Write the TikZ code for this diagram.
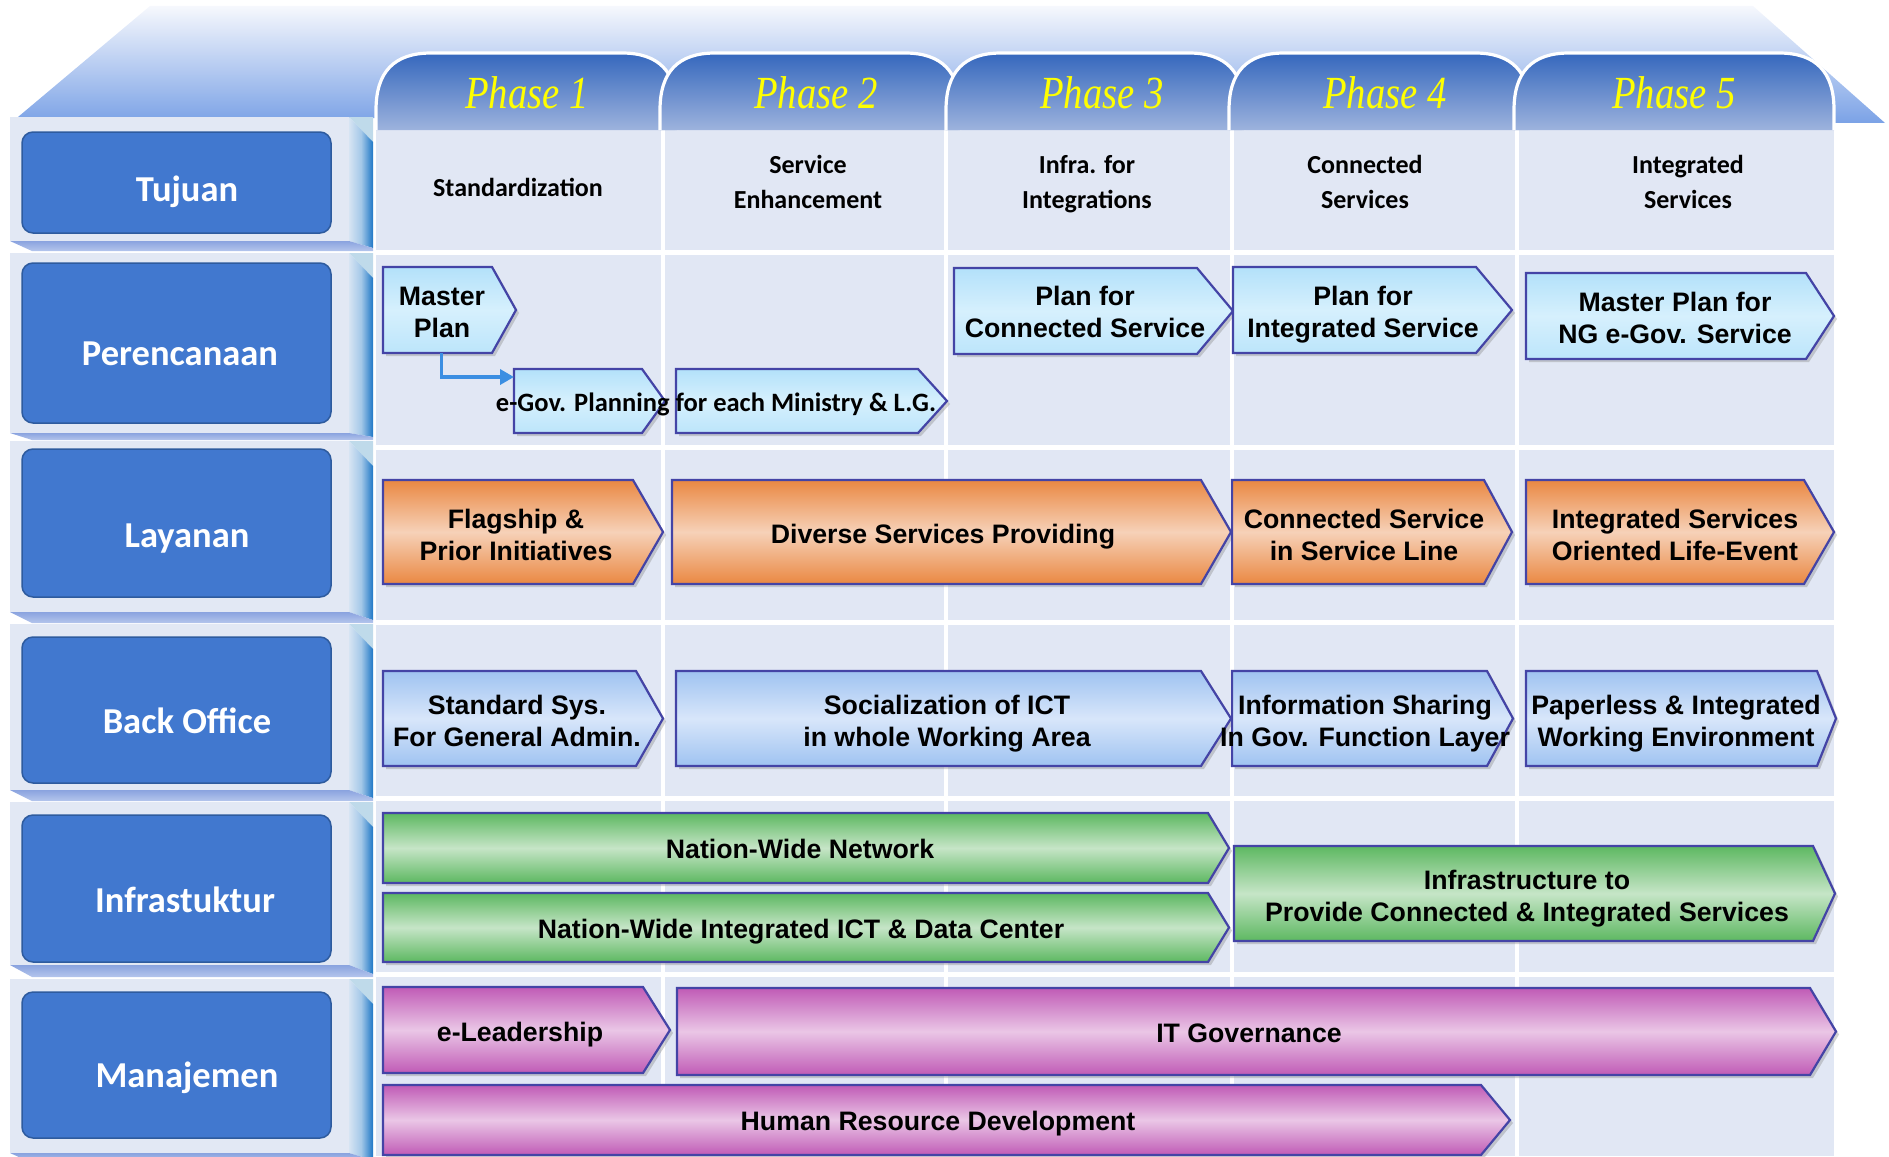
\documentclass[tikz,border=0pt]{standalone}
\usepackage{fontspec}
\setmainfont{Liberation Sans}
\newfontfamily\carlito{Carlito}
\newfontfamily\serifit{Liberation Serif}
\usetikzlibrary{arrows.meta,shadows}

\definecolor{topwhite}{HTML}{F6F8FD}
\definecolor{topblue}{HTML}{7BA2E6}
\definecolor{tabtop}{HTML}{3567BD}
\definecolor{tabbot}{HTML}{9DB3DD}
\definecolor{gridbg}{HTML}{E1E7F4}
\definecolor{panelc}{HTML}{E2E8F4}
\definecolor{stripL}{HTML}{D6E4F3}
\definecolor{stripM}{HTML}{A4C8E8}
\definecolor{stripR}{HTML}{1F77C6}
\definecolor{striptri}{HTML}{BFDAEA}
\definecolor{bevT}{HTML}{8AA3DF}
\definecolor{bevB}{HTML}{B4C5EC}
\definecolor{lblfill}{HTML}{4178CF}
\definecolor{lblline}{HTML}{2E5B9E}
\definecolor{barline}{HTML}{4444A6}
\definecolor{planT}{HTML}{B3E1FA}
\definecolor{planM}{HTML}{D6F0FD}
\definecolor{planB}{HTML}{BCE5FB}
\definecolor{svcT}{HTML}{EA8842}
\definecolor{svcM}{HTML}{F6D1B8}
\definecolor{backT}{HTML}{9FC3F1}
\definecolor{backM}{HTML}{D8E6FA}
\definecolor{infT}{HTML}{5DB861}
\definecolor{infM}{HTML}{C6E5C7}
\definecolor{mgmtT}{HTML}{C05BB6}
\definecolor{mgmtM}{HTML}{EAC6E6}
\definecolor{connc}{HTML}{3B8EE2}
\definecolor{phaseyellow}{HTML}{FFFF00}

% chevron bar: name, style, left x, top y, tip x, bottom y, tip depth
\newcommand\chev[7]{%
  \path[#2] (#3,#4) -- ({#5-#7},#4) -- (#5,{(#4+#6)/2}) -- ({#5-#7},#6) -- (#3,#6) -- cycle;
  \node[inner sep=0pt, outer sep=0pt, minimum width={(#5-#7-#3)*1pt},
        minimum height={(#6-#4)*1pt}, anchor=north west] (#1) at (#3,#4) {};
}

% left-hand row panel: top y, panel bottom y, row end y
\newcommand\sidepanel[3]{%
  \fill[panelc] (10,#1) rectangle (349,#2);
  \fill[striptri] (349,#1) -- (373,#1) -- (373,#1+25) -- cycle;
  \shade[left color=stripL, right color=stripR, middle color=stripM]
    (349,#1) -- (373,#1+25) -- (373,#3-3) -- (349,#2) -- cycle;
  \shade[top color=bevT, bottom color=bevB]
    (10,#2) -- (349,#2) -- (373,#3-3) -- (373,#3) -- (32,#3) -- cycle;
}

\begin{document}
\begin{tikzpicture}[x=1pt,y=-1pt,
  tabfill/.style={top color=tabtop, bottom color=tabbot},
  phasetxt/.style={font=\serifit\itshape\fontsize{46}{50}\selectfont, text=phaseyellow, xscale=0.84, inner sep=0pt},
  hdr/.style={font=\carlito\bfseries\fontsize{26}{35}\selectfont, align=center, inner sep=0pt,
    execute at begin node=\strut, execute at end node=\strut},
  lblbox/.style={fill=lblfill, draw=lblline, line width=1.5, rounded corners=11},
  lbltxt/.style={font=\carlito\bfseries\fontsize{36.5}{40}\selectfont, text=white, anchor=base, inner sep=0pt},
  barbase/.style={draw=barline, line width=2.2,
    drop shadow={shadow xshift=3pt, shadow yshift=-3pt, opacity=0.35}},
  planbar/.style={barbase, top color=planT, bottom color=planB, middle color=planM},
  svcbar/.style={barbase, top color=svcT, bottom color=svcT, middle color=svcM},
  backbar/.style={barbase, top color=backT, bottom color=backT, middle color=backM},
  infbar/.style={barbase, top color=infT, bottom color=infT, middle color=infM},
  mgmtbar/.style={barbase, top color=mgmtT, bottom color=mgmtT, middle color=mgmtM},
  bartxt/.style={font=\bfseries\fontsize{26.7}{32}\selectfont, align=center, inner sep=0pt,
    execute at begin node=\strut, execute at end node=\strut},
  conn/.style={draw=connc, line width=3.5, -{Triangle[length=14pt,width=15pt]}}
]
\useasboundingbox (0,0) rectangle (1889,1156);

% roof behind the phase tabs
\shade[top color=topwhite, bottom color=topblue]
  (18,117) -- (150,6) -- (1753,6) -- (1885,123) -- cycle;

% table body with white rules
\fill[gridbg] (376,130) rectangle (1834,1156);
\foreach \x in {663,946,1232,1517}
  \draw[white, line width=4] (\x,130) -- (\x,1156);
\foreach \y in {252,447,622,798,974}
  \draw[white, line width=5] (376,\y) -- (1834,\y);

% phase tabs
\foreach \a/\b in {376/677,660/960,946/1244,1229/1530,1514/1834}{
  \shade[tabfill] (\a,130) -- (\a,110) .. controls (\a,72) and (\a+18,53) .. (\a+55,53)
    -- (\b-55,53) .. controls (\b-18,53) and (\b,72) .. (\b,110) -- (\b,130) -- cycle;
  \draw[white, line width=3.2] (\a,130) -- (\a,110) .. controls (\a,72) and (\a+18,53) .. (\a+55,53)
    -- (\b-55,53) .. controls (\b-18,53) and (\b,72) .. (\b,110) -- (\b,130);
}
\foreach \x [count=\i] in {527,816,1102,1385,1674}
  \node[phasetxt] (ph\i) at (\x,93) {Phase \i};

% row panels on the left
\sidepanel{117}{241}{251}
\sidepanel{253}{433}{440}
\sidepanel{441}{612}{623}
\sidepanel{624}{790}{801}
\sidepanel{802}{965}{977}
\sidepanel{979}{1153}{1163}

\draw[lblbox] (22,132) rectangle (331,233);
\draw[lblbox] (22,263) rectangle (331,423);
\draw[lblbox] (22,449) rectangle (331,597);
\draw[lblbox] (22,637) rectangle (331,783);
\draw[lblbox] (22,815) rectangle (331,962);
\draw[lblbox] (22,992) rectangle (331,1138);

\node[lbltxt] (tujuan) at (187,201) {Tujuan};
\node[lbltxt] (perencanaan) at (180,365) {Perencanaan};
\node[lbltxt] (layanan) at (187,547) {Layanan};
\node[lbltxt] (backoffice) at (187,733) {Back Office};
\node[lbltxt] (infra) at (185,912) {Infrastuktur};
\node[lbltxt] (manajemen) at (187,1087) {Manajemen};

% goals per phase
\node[hdr] (g1) at (518,189) {Standardization};
\node[hdr] (g2) at (808,187.5) {Service\\Enhancement};
\node[hdr] (g3) at (1087,187.5) {Infra. for\\Integrations};
\node[hdr] (g4) at (1365,187.5) {Connected\\Services};
\node[hdr] (g5) at (1688,187.5) {Integrated\\Services};

% planning
\chev{mp}{planbar}{383}{267}{516}{353}{24}
\chev{eg1}{planbar}{514}{369}{665}{433}{23}
\chev{eg2}{planbar}{676}{369}{947}{433}{29}
\chev{pc}{planbar}{954}{268}{1233}{354}{36}
\chev{pi}{planbar}{1233}{267}{1512}{353}{36}
\chev{pn}{planbar}{1526}{273}{1834}{359}{28}
\node[bartxt] (mp-t) at (442,317) {Master\\Plan};
\node[font=\carlito\bfseries\fontsize{26.5}{30}\selectfont, inner sep=0pt] (eg-t) at (716,404.5)
  {e-Gov. Planning for each Ministry \& L.G.};
\node[bartxt] (pc-t) at (1085,317) {Plan for\\Connected Service};
\node[bartxt] (pi-t) at (1363,317) {Plan for\\Integrated Service};
\node[bartxt] (pn-t) at (1675,323) {Master Plan for\\NG e-Gov. Service};
\draw[conn] ([xshift=4pt]mp.south) |- ([yshift=-8pt]eg1.north west);

% services
\chev{fl}{svcbar}{383}{480}{663}{584}{30}
\chev{dv}{svcbar}{672}{480}{1231}{584}{30}
\chev{cs}{svcbar}{1232}{480}{1512}{584}{28}
\chev{is}{svcbar}{1526}{480}{1834}{584}{30}
\node[bartxt] (fl-t) at (516,539.5) {Flagship \&\\Prior Initiatives};
\node[bartxt] (dv-t) at (943,537) {Diverse Services Providing};
\node[bartxt] (cs-t) at (1364,539.5) {Connected Service\\in Service Line};
\node[bartxt] (is-t) at (1675,539.5) {Integrated Services\\Oriented Life-Event};

% back office
\chev{ss}{backbar}{383}{671}{663}{766}{27}
\chev{so}{backbar}{676}{671}{1231}{766}{30}
\chev{ih}{backbar}{1232}{671}{1513}{766}{26}
\chev{pw}{backbar}{1526}{671}{1836}{766}{19}
\node[bartxt] (ss-t) at (517,725.5) {Standard Sys.\\For General Admin.};
\node[bartxt] (so-t) at (947,725.5) {Socialization of ICT\\in whole Working Area};
\node[bartxt] (ih-t) at (1365,725.5) {Information Sharing\\In Gov. Function Layer};
\node[bartxt] (pw-t) at (1676,725.5) {Paperless \& Integrated\\Working Environment};

% infrastructure
\chev{nw}{infbar}{383}{813}{1229}{883}{21}
\chev{ni}{infbar}{383}{893}{1229}{962}{21}
\chev{ip}{infbar}{1234}{846}{1835}{941}{22}
\node[bartxt] (nw-t) at (800,852.5) {Nation-Wide Network};
\node[bartxt] (ni-t) at (801,932) {Nation-Wide Integrated ICT \& Data Center};
\node[bartxt] (ip-t) at (1527,900.5) {Infrastructure to\\Provide Connected \& Integrated Services};

% management
\chev{el}{mgmtbar}{383}{987}{670}{1073}{27}
\chev{it}{mgmtbar}{677}{988}{1836}{1075}{26}
\chev{hr}{mgmtbar}{383}{1085}{1510}{1155}{29}
\node[bartxt] (el-t) at (520,1035.5) {e-Leadership};
\node[bartxt] (it-t) at (1249,1036.5) {IT Governance};
\node[bartxt] (hr-t) at (938,1124.5) {Human Resource Development};

\end{tikzpicture}
\end{document}
